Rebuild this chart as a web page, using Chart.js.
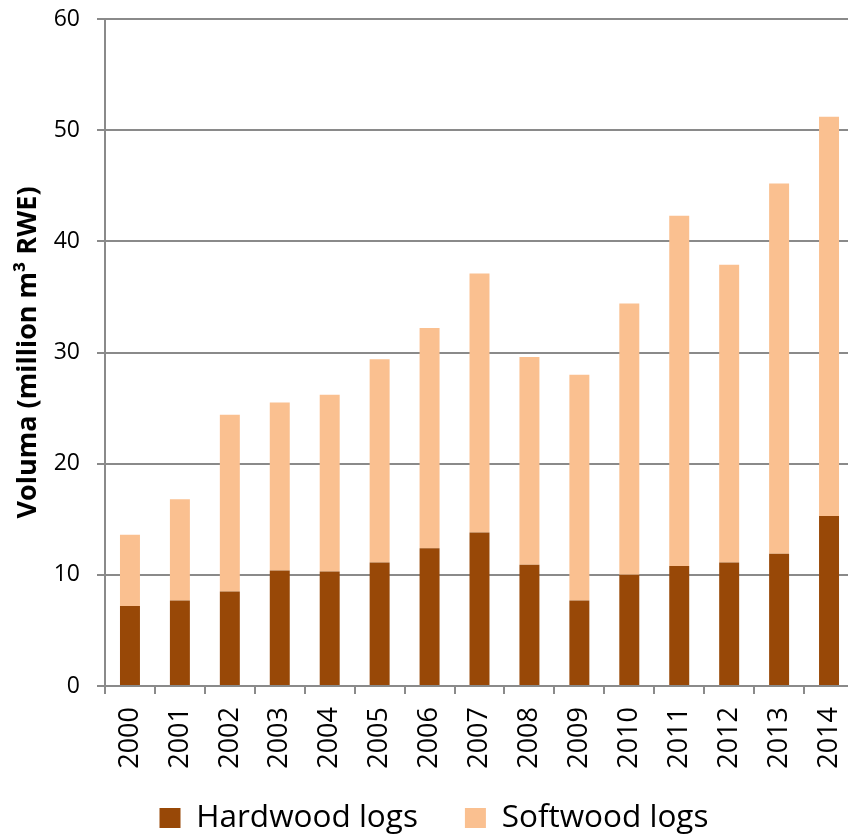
<!DOCTYPE html>
<html>
<head>
<meta charset="utf-8">
<script src="https://cdn.jsdelivr.net/npm/chart.js@4/dist/chart.umd.min.js"></script>
<style>
  html, body { margin: 0; padding: 0; background: #fff; overflow: hidden; }
  #wrap { width: 854px; height: 839px; }
</style>
</head>
<body>
<div id="wrap"><canvas id="chart"></canvas></div>
<script>
const years = ['2000', '2001', '2002', '2003', '2004', '2005', '2006', '2007',
               '2008', '2009', '2010', '2011', '2012', '2013', '2014'];
const hardwoodLogs = [7.2, 7.7, 8.5, 10.4, 10.3, 11.1, 12.4, 13.8, 10.9, 7.7, 10.0, 10.8, 11.1, 11.9, 15.3];
const softwoodLogs = [6.4, 9.1, 15.9, 15.1, 15.9, 18.3, 19.8, 23.3, 18.7, 20.3, 24.4, 31.5, 26.8, 33.3, 35.9];
const yMin = 0;
const yMax = 60;
const yStep = 10;

const gridColor = '#8a8a8a';
const fontFamily = '"Open Sans", "Noto Sans", sans-serif';

// legend padding is also the gap between the two items; the legend box gets
// laid out below the (clipped) x labels and is then moved into place
const legendShift = {
    id: 'legendShift',
    afterLayout(chart) {
        const lg = chart.legend;
        if (!lg) return;
        lg.top -= 12.75;
        lg.bottom -= 12.75;
        lg.left += 7;
        lg.right += 7;
    }
};

const ctx = document.getElementById('chart').getContext('2d');
new Chart(ctx, {
    type: 'bar',
    data: {
        labels: years,
        datasets: [
            {
                label: 'Hardwood logs',
                data: hardwoodLogs,
                backgroundColor: '#984807',
                barPercentage: 0.4,
                categoryPercentage: 1,
            },
            {
                label: 'Softwood logs',
                data: softwoodLogs,
                backgroundColor: '#fac090',
                barPercentage: 0.4,
                categoryPercentage: 1,
            }
        ]
    },
    options: {
        responsive: true,
        maintainAspectRatio: false,
        animation: false,
        layout: { padding: { top: 19, right: 0, left: 0, bottom: -17.5 } },
        scales: {
            x: {
                stacked: true,
                grid: {
                    drawOnChartArea: false,
                    drawTicks: true,
                    tickLength: 8,
                    color: gridColor,
                    lineWidth: 2,
                },
                border: { color: gridColor, width: 2 },
                ticks: {
                    color: '#000',
                    font: { family: fontFamily, size: 27 },
                    minRotation: 90,
                    maxRotation: 90,
                    padding: 13,
                    autoSkip: false,
                },
                afterFit: (scale) => {
                    scale.height = 82;
                    scale.paddingLeft = 0;
                    scale.paddingRight = 0;
                },
            },
            y: {
                stacked: true,
                min: yMin,
                max: yMax,
                grid: {
                    color: gridColor,
                    lineWidth: 2,
                    tickLength: 8,
                },
                border: { color: gridColor, width: 2 },
                ticks: {
                    stepSize: yStep,
                    color: '#000',
                    font: { family: fontFamily, size: 23 },
                    padding: 17,
                },
                title: {
                    display: true,
                    text: 'Voluma (million m³ RWE)',
                    color: '#000',
                    font: { family: fontFamily, size: 27, weight: 'bold' },
                    padding: { top: 12, bottom: 0 },
                },
                afterFit: (scale) => {
                    scale.width = 105;
                    scale.paddingTop = 0;
                    scale.paddingBottom = 0;
                },
            }
        },
        plugins: {
            legend: {
                position: 'bottom',
                labels: {
                    color: '#000',
                    font: { family: fontFamily, size: 31.5 },
                    boxWidth: 21,
                    boxHeight: 20,
                    padding: 47,
                },
            },
            tooltip: { enabled: false },
        }
    },
    plugins: [legendShift]
});
</script>
</body>
</html>
